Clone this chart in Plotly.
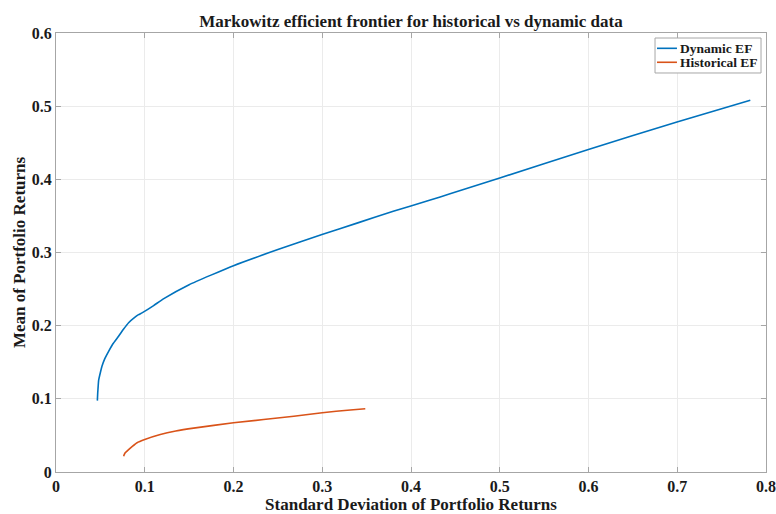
import plotly.graph_objects as go

# Efficient frontier samples (std dev, mean) for each dataset
dynamic_std = [0.0466, 0.0470, 0.0475, 0.0480, 0.0500, 0.0518, 0.0550, 0.0593, 0.0640,
               0.0705, 0.0760, 0.0818, 0.0880, 0.0930, 0.0969, 0.1100, 0.1210, 0.1500,
               0.2000, 0.2500, 0.2997, 0.3400, 0.3800, 0.4217, 0.4440, 0.5000, 0.5990,
               0.6997, 0.7823]
dynamic_mean = [0.0975, 0.1080, 0.1170, 0.1250, 0.1360, 0.1445, 0.1550, 0.1650, 0.1750,
                0.1855, 0.1950, 0.2040, 0.2105, 0.2150, 0.2175, 0.2275, 0.2366, 0.2560,
                0.2820, 0.3040, 0.3245, 0.3405, 0.3563, 0.3718, 0.3802, 0.4018, 0.4405,
                0.4785, 0.5080]

historical_std = [0.0762, 0.0770, 0.0780, 0.0818, 0.0860, 0.0913, 0.1000, 0.1175, 0.1350,
                  0.1550, 0.2000, 0.2680, 0.3000, 0.3316, 0.3485]
historical_mean = [0.0216, 0.0240, 0.0262, 0.0307, 0.0350, 0.0400, 0.0444, 0.0512, 0.0560,
                   0.0600, 0.0672, 0.0762, 0.0810, 0.0848, 0.0865]

x_ticks = [0, 0.1, 0.2, 0.3, 0.4, 0.5, 0.6, 0.7, 0.8]
x_labels = ["0", "0.1", "0.2", "0.3", "0.4", "0.5", "0.6", "0.7", "0.8"]
y_ticks = [0, 0.1, 0.2, 0.3, 0.4, 0.5, 0.6]
y_labels = ["0", "0.1", "0.2", "0.3", "0.4", "0.5", "0.6"]

series_names = ["Dynamic EF", "Historical EF"]
series_colors = ["#0072BD", "#D95319"]

serif = "Liberation Serif, Times New Roman, serif"
text_color = "#1a1a1a"
frame_color = "#a6a6a6"

fig = go.Figure()
fig.add_trace(go.Scatter(x=dynamic_std, y=dynamic_mean, mode="lines", name=series_names[0],
                         line=dict(color=series_colors[0], width=1.6, shape="spline", smoothing=0.4),
                         showlegend=False))
fig.add_trace(go.Scatter(x=historical_std, y=historical_mean, mode="lines", name=series_names[1],
                         line=dict(color=series_colors[1], width=1.6, shape="spline", smoothing=0.4),
                         showlegend=False))

axis_common = dict(
    showgrid=True, gridcolor="#ebebeb", gridwidth=1,
    showline=True, linecolor=frame_color, linewidth=1, mirror="ticks",
    ticks="inside", ticklen=5, tickcolor=frame_color,
    zeroline=False, automargin=False,
    tickfont=dict(family=serif, size=16, color=text_color, weight="bold"),
)

# Legend box drawn in paper coordinates, upper-right corner of the axes
box_x0, box_x1, box_y0, box_y1 = 0.8437, 0.993, 0.9089, 0.9886
row_y = [0.9651, 0.9333]
sample_x0, sample_x1, label_x = 0.8465, 0.8746, 0.8760

shapes = [dict(type="rect", xref="paper", yref="paper",
               x0=box_x0, x1=box_x1, y0=box_y0, y1=box_y1,
               line=dict(color=frame_color, width=1), fillcolor="white", layer="above")]
annotations = []
for name, color, yy in zip(series_names, series_colors, row_y):
    shapes.append(dict(type="line", xref="paper", yref="paper",
                       x0=sample_x0, x1=sample_x1, y0=yy, y1=yy,
                       line=dict(color=color, width=1.6), layer="above"))
    annotations.append(dict(text=name, xref="paper", yref="paper", x=label_x, y=yy,
                            xanchor="left", yanchor="middle", showarrow=False,
                            font=dict(family=serif, size=13.5, color=text_color, weight="bold")))

fig.update_layout(
    width=776, height=514,
    margin=dict(l=56, r=10, t=33, b=42),
    paper_bgcolor="white", plot_bgcolor="white",
    title=dict(text="Markowitz efficient frontier for historical vs dynamic data",
               x=0.5, xref="paper", xanchor="center", y=0.96, yanchor="middle",
               font=dict(family=serif, size=17, color=text_color, weight="bold")),
    xaxis=dict(range=[0, 0.8], tickvals=x_ticks, ticktext=x_labels,
               title=dict(text="Standard Deviation of Portfolio Returns", standoff=8,
                          font=dict(family=serif, size=17, color=text_color, weight="bold")),
               **axis_common),
    yaxis=dict(range=[0, 0.6], tickvals=y_ticks, ticktext=y_labels,
               title=dict(text="Mean of Portfolio Returns", standoff=1,
                          font=dict(family=serif, size=17, color=text_color, weight="bold")),
               **axis_common),
    shapes=shapes,
    annotations=annotations,
    showlegend=False,
)

fig.write_html("out.html")
